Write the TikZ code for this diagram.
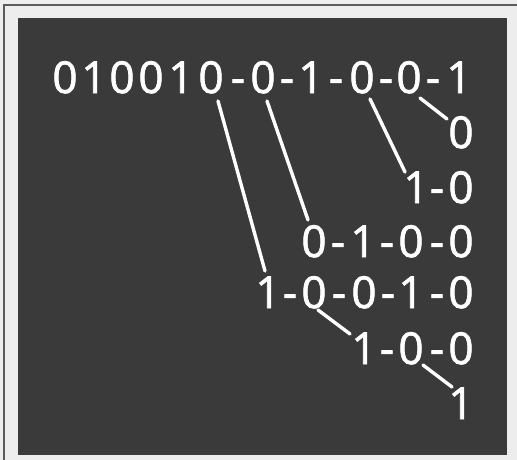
\documentclass[tikz,border=0pt]{standalone}
\usepackage{fontspec}
\setmainfont{Open Sans}
\newfontfamily\digitfont[FakeBold=1.6]{Open Sans}
\definecolor{panel}{HTML}{3A3A3A}
\definecolor{paper}{HTML}{EDEDED}
\definecolor{frameline}{HTML}{5A5A5A}
\begin{document}
\begin{tikzpicture}[x=1pt,y=-1pt,
  dg/.style={anchor=base,inner sep=0pt,outer sep=0pt,text=white,font=\digitfont\fontsize{44}{44}\selectfont},
  link/.style={draw=white,line width=3.4pt,line cap=round}]
\useasboundingbox (0,0) rectangle (517,460);
\fill[paper] (0,0) rectangle (517,460);
\draw[frameline,line width=1.2pt] (4,460) -- (4,5) -- (517,5);
\fill[panel] (18,18) rectangle (507,455);
% row 1
\node[dg] (r1c1) at (65,93) {0};
\node[dg] (r1c2) at (94,93) {1};
\node[dg] (r1c3) at (122,93) {0};
\node[dg] (r1c4) at (151,93) {0};
\node[dg] (r1c5) at (181,93) {1};
\node[dg] (r1c6) at (211,93) {0};
\node[dg] (r1c7) at (238,93) {-};
\node[dg] (r1c8) at (263,93) {0};
\node[dg] (r1c9) at (287,93) {-};
\node[dg] (r1c10) at (311,93) {1};
\node[dg] (r1c11) at (336,93) {-};
\node[dg] (r1c12) at (362,93) {0};
\node[dg] (r1c13) at (386,93) {-};
\node[dg] (r1c14) at (409,93) {0};
\node[dg] (r1c15) at (433,93) {-};
\node[dg] (r1c16) at (459,93) {1};
% row 2
\node[dg] (r2c1) at (461,148) {0};
% row 3
\node[dg] (r3c1) at (416,203) {1};
\node[dg] (r3c2) at (437,203) {-};
\node[dg] (r3c3) at (461,203) {0};
% row 4
\node[dg] (r4c1) at (314,257) {0};
\node[dg] (r4c2) at (338,257) {-};
\node[dg] (r4c3) at (363,257) {1};
\node[dg] (r4c4) at (387,257) {-};
\node[dg] (r4c5) at (411,257) {0};
\node[dg] (r4c6) at (437,257) {-};
\node[dg] (r4c7) at (461,257) {0};
% row 5
\node[dg] (r5c1) at (268,308) {1};
\node[dg] (r5c2) at (290,308) {-};
\node[dg] (r5c3) at (314,308) {0};
\node[dg] (r5c4) at (339,308) {-};
\node[dg] (r5c5) at (364,308) {0};
\node[dg] (r5c6) at (388,308) {-};
\node[dg] (r5c7) at (411,308) {1};
\node[dg] (r5c8) at (437,308) {-};
\node[dg] (r5c9) at (461,308) {0};
% row 6
\node[dg] (r6c1) at (364,364) {1};
\node[dg] (r6c2) at (387,364) {-};
\node[dg] (r6c3) at (411,364) {0};
\node[dg] (r6c4) at (437,364) {-};
\node[dg] (r6c5) at (461,364) {0};
% row 7
\node[dg] (r7c1) at (461,419) {1};
% connectors
\draw[link] ([shift={(7,8)}]r1c6.base) -- ([shift={(-3,-37)}]r5c1.base);
\draw[link] ([shift={(4,8)}]r1c8.base) -- ([shift={(-6,-37)}]r4c1.base);
\draw[link] ([shift={(8,6)}]r1c12.base) -- ([shift={(-11,-31)}]r3c1.base);
\draw[link] ([shift={(11,5)}]r1c14.base) -- ([shift={(-14,-29)}]r2c1.base);
\draw[link] ([shift={(4,2)}]r5c3.base) -- ([shift={(-14,-30)}]r6c1.base);
\draw[link] ([shift={(12,1)}]r6c3.base) -- ([shift={(-9,-32)}]r7c1.base);
\end{tikzpicture}
\end{document}
